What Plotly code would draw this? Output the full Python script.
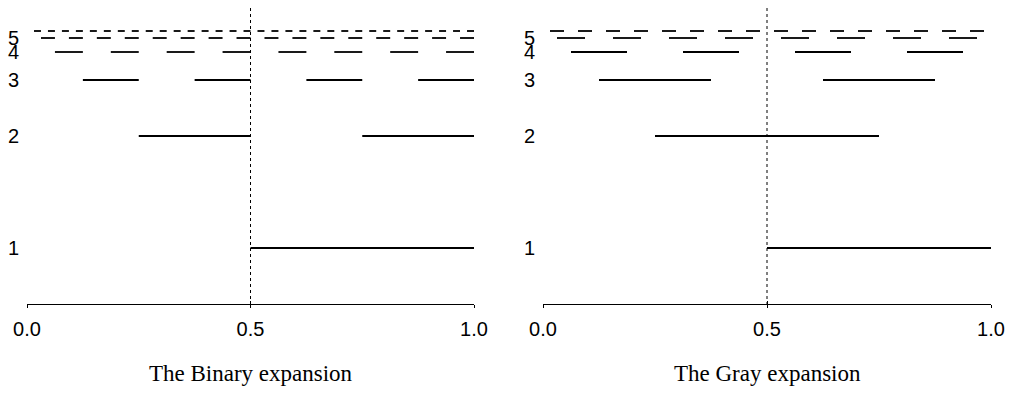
import plotly.graph_objects as go

# ---- data (interval endpoints in units of 1/64) ----
levels = [1, 2, 3, 4, 5, 6]                 # bit index
level_y = [0.5, 0.25, 0.125, 0.0625, 0.03125, 0.015625]   # plotted height of each bit row
level_labels = ["1", "2", "3", "4", "5"]

binary_segments = {
    1: [(32, 64)],
    2: [(16, 32), (48, 64)],
    3: [(8, 16), (24, 32), (40, 48), (56, 64)],
    4: [(4, 8), (12, 16), (20, 24), (28, 32), (36, 40), (44, 48), (52, 56), (60, 64)],
    5: [(2, 4), (6, 8), (10, 12), (14, 16), (18, 20), (22, 24), (26, 28), (30, 32),
        (34, 36), (38, 40), (42, 44), (46, 48), (50, 52), (54, 56), (58, 60), (62, 64)],
    6: [(1, 2), (3, 4), (5, 6), (7, 8), (9, 10), (11, 12), (13, 14), (15, 16),
        (17, 18), (19, 20), (21, 22), (23, 24), (25, 26), (27, 28), (29, 30), (31, 32),
        (33, 34), (35, 36), (37, 38), (39, 40), (41, 42), (43, 44), (45, 46), (47, 48),
        (49, 50), (51, 52), (53, 54), (55, 56), (57, 58), (59, 60), (61, 62), (63, 64)],
}
gray_segments = {
    1: [(32, 64)],
    2: [(16, 48)],
    3: [(8, 24), (40, 56)],
    4: [(4, 12), (20, 28), (36, 44), (52, 60)],
    5: [(2, 6), (10, 14), (18, 22), (26, 30), (34, 38), (42, 46), (50, 54), (58, 62)],
    6: [(1, 3), (5, 7), (9, 11), (13, 15), (17, 19), (21, 23), (25, 27), (29, 31),
        (33, 35), (37, 39), (41, 43), (45, 47), (49, 51), (53, 55), (57, 59), (61, 63)],
}
tick_vals = [0.0, 0.5, 1.0]
tick_text = ["0.0", "0.5", "1.0"]
titles = ["The Binary expansion", "The Gray expansion"]
mid_x = 0.5
axis_level = 0.625
divider_top = -0.0357

W, H = 1017, 402
SANS = "Liberation Sans, Arial, sans-serif"
SERIF = "Liberation Serif, Times New Roman, serif"

fig = go.Figure()

def add_panel(segs, xref):
    for k, yv in zip(levels, level_y):
        xs, ys = [], []
        for a, b in segs[k]:
            xs += [a / 64, b / 64, None]
            ys += [yv, yv, None]
        fig.add_trace(go.Scatter(x=xs, y=ys, mode="lines", xaxis=xref, yaxis="y",
                                 line=dict(color="black", width=1.8),
                                 hoverinfo="skip", showlegend=False))
    fig.add_trace(go.Scatter(x=[mid_x, mid_x], y=[divider_top, axis_level], mode="lines",
                             xaxis=xref, yaxis="y",
                             line=dict(color="black", width=1, dash="3px,3px"),
                             hoverinfo="skip", showlegend=False))

add_panel(binary_segments, "x")
add_panel(gray_segments, "x2")

pos = 1 - 304 / H
dom1 = [27 / W, 474 / W]
dom2 = [543 / W, 991 / W]

def xax(domain, **kw):
    d = dict(domain=domain, range=[0, 1], anchor="free", position=pos,
             showline=True, linecolor="black", linewidth=1,
             ticks="outside", ticklen=3, tickcolor="black", tickwidth=1,
             tickvals=tick_vals, ticktext=tick_text, showgrid=False, zeroline=False,
             tickfont=dict(family=SANS, size=20, color="black"), ticklabelstandoff=4,
             automargin=False, fixedrange=True)
    d.update(kw)
    return d

fig.update_layout(
    width=W, height=H, margin=dict(l=0, r=0, t=0, b=0, autoexpand=False),
    paper_bgcolor="white", plot_bgcolor="white",
    xaxis=xax(dom1),
    xaxis2=xax(dom2),
    xaxis3=xax(dom1, overlaying="x", ticks="inside", showticklabels=False, showline=False),
    xaxis4=xax(dom2, overlaying="x2", ticks="inside", showticklabels=False, showline=False),
    yaxis=dict(domain=[0, 1], range=[378 / 448, -24 / 448], visible=False, fixedrange=True),
)

# dummy traces so overlay axes render
fig.add_trace(go.Scatter(x=[None], y=[None], xaxis="x3", yaxis="y", showlegend=False))
fig.add_trace(go.Scatter(x=[None], y=[None], xaxis="x4", yaxis="y", showlegend=False))

for xpix in (13, 529):
    for lab, yv in zip(level_labels, level_y):
        fig.add_annotation(x=xpix / W, xref="paper", y=yv, yref="y", text=lab,
                           showarrow=False, xanchor="center", yanchor="middle",
                           font=dict(family=SANS, size=20, color="black"))

for t, dom in zip(titles, (dom1, dom2)):
    fig.add_annotation(x=(dom[0] + dom[1]) / 2, xref="paper", y=1 - 373 / H, yref="paper",
                       text=t, showarrow=False, xanchor="center", yanchor="middle",
                       font=dict(family=SERIF, size=23, color="black"))

fig.write_html("out.html", config={"displayModeBar": False},
               post_script="document.body.style.margin='0';document.body.style.overflow='hidden';")
